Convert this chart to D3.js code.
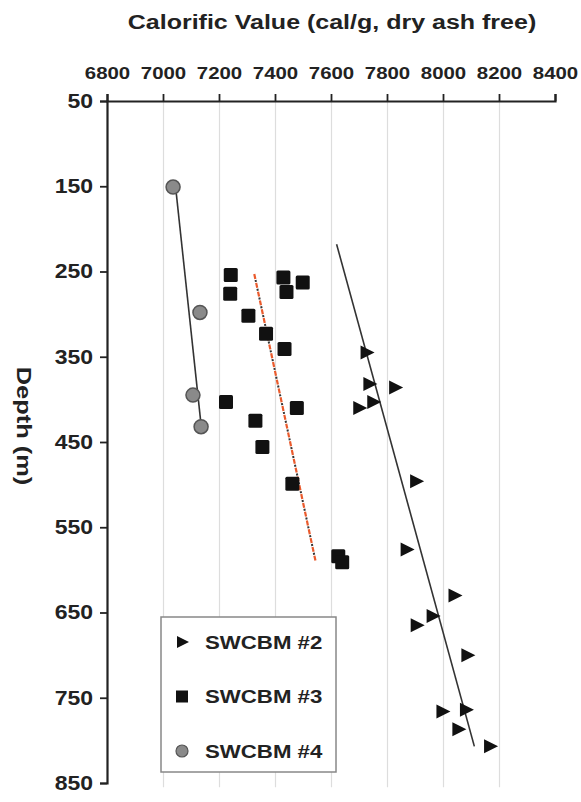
<!DOCTYPE html>
<html>
<head>
<script src="https://d3js.org/d3.v7.min.js"></script>
<style>
  body { margin: 0; background: #fff; }
  text { font-family: "Liberation Sans", Arial, sans-serif; font-weight: bold; fill: #222; }
  .grid line { stroke: #ddd; stroke-width: 1.2; }
  .grid .domain { stroke: none; }
</style>
</head>
<body>
<script>
// SWCBM #2 (triangles): calorific value, depth
const swcbm2Cal   = [7727, 7737, 7829, 7751, 7701, 7904, 7870, 8041, 7963, 7906, 8087, 7998, 8082, 8055, 8168];
const swcbm2Depth = [345, 382, 386, 403, 410, 496, 576, 630, 654, 665, 700, 766, 764, 787, 807];
// SWCBM #3 (squares)
const swcbm3Cal   = [7242, 7240, 7430, 7441, 7499, 7305, 7368, 7434, 7225, 7478, 7330, 7355, 7462, 7626, 7640];
const swcbm3Depth = [254, 276, 257, 274, 263, 302, 323, 341, 403, 410, 425, 456, 499, 584, 591];
// SWCBM #4 (circles)
const swcbm4Cal   = [7036, 7132, 7107, 7136];
const swcbm4Depth = [151, 298, 395, 432];
// trend lines [cal, depth] end points
const trend2 = [[7620, 218], [8112, 807]];
const trend3 = [[7326, 253], [7545, 590]];
const trend4 = [[7046, 154], [7136, 430]];

const xTicks = [6800, 7000, 7200, 7400, 7600, 7800, 8000, 8200, 8400];
const yTicks = [50, 150, 250, 350, 450, 550, 650, 750, 850];
const legendNames = ['SWCBM #2', 'SWCBM #3', 'SWCBM #4'];

const width = 581, height = 802;
const svg = d3.select('body').append('svg').attr('width', width).attr('height', height);

const x = d3.scaleLinear().domain([6800, 8400]).range([107, 555]);
const y = d3.scaleLinear().domain([50, 850]).range([101, 783]);

// the original lettering is wider than Arial, so widen the glyphs a bit
function stretch(sel, k) {
  sel.each(function () {
    const w = this.getComputedTextLength();
    d3.select(this).attr('textLength', w * k).attr('lengthAdjust', 'spacingAndGlyphs');
  });
}

// vertical gridlines
svg.append('g')
  .attr('class', 'grid')
  .attr('transform', `translate(0,${y(50)})`)
  .call(d3.axisBottom(x).tickValues(xTicks.slice(1, -1)).tickFormat('').tickSize(y(855) - y(50)));

// axes
const topAxis = svg.append('g')
  .attr('transform', `translate(0,${y(50)})`)
  .call(d3.axisTop(x).tickValues(xTicks).tickSize(7).tickPadding(21).tickFormat(d3.format('d')));
const leftAxis = svg.append('g')
  .attr('transform', `translate(${x(6800)},0)`)
  .call(d3.axisLeft(y).tickValues(yTicks).tickSize(7).tickPadding(7).tickFormat(d3.format('d')));

[topAxis, leftAxis].forEach(g => {
  g.select('.domain').attr('stroke', '#222').attr('stroke-width', 2.2);
  g.selectAll('.tick line').attr('stroke', '#222').attr('stroke-width', 1.8);
  g.selectAll('.tick text').style('font-family', '"Liberation Sans", Arial, sans-serif')
    .style('font-weight', 'bold').attr('fill', '#222');
});
topAxis.selectAll('.tick text').style('font-size', '17px').attr('dy', '0.36em');
leftAxis.selectAll('.tick text').style('font-size', '20px');
stretch(topAxis.selectAll('.tick text'), 1.2);
stretch(leftAxis.selectAll('.tick text'), 1.15);

// titles
const title = svg.append('text').attr('x', 332).attr('y', 28.5).attr('text-anchor', 'middle')
  .style('font-size', '20px').text('Calorific Value (cal/g, dry ash free)');
stretch(title, 1.25);
const yTitle = svg.append('text').attr('transform', 'translate(24,426) rotate(90)').attr('text-anchor', 'middle')
  .attr('dy', '0.36em').style('font-size', '20px').text('Depth (m)');
stretch(yTitle, 1.27);

// trend lines
const line = d3.line().x(d => x(d[0])).y(d => y(d[1]));
svg.append('path').attr('d', line(trend4)).attr('stroke', '#333').attr('stroke-width', 1.6).attr('fill', 'none');
svg.append('path').attr('d', line(trend2)).attr('stroke', '#333').attr('stroke-width', 1.6).attr('fill', 'none');
// red/black dash-dot for #3
svg.append('path').attr('d', line(trend3)).attr('stroke', '#ea5a2c').attr('stroke-width', 2.2)
  .attr('stroke-dasharray', '5,4').attr('fill', 'none');
svg.append('path').attr('d', line(trend3)).attr('stroke', '#333').attr('stroke-width', 2)
  .attr('stroke-dasharray', '2,7').attr('stroke-dashoffset', -6).attr('fill', 'none');

// markers
const tri = 'M-6,-7L8,0L-6,7Z';
const sq = 14;

svg.append('g').selectAll('path')
  .data(d3.zip(swcbm2Cal, swcbm2Depth))
  .join('path')
  .attr('transform', d => `translate(${x(d[0])},${y(d[1])})`)
  .attr('d', tri).attr('fill', '#111');

svg.append('g').selectAll('rect')
  .data(d3.zip(swcbm3Cal, swcbm3Depth))
  .join('rect')
  .attr('x', d => x(d[0]) - sq / 2).attr('y', d => y(d[1]) - sq / 2)
  .attr('width', sq).attr('height', sq).attr('rx', 1.5)
  .attr('fill', '#111');

svg.append('g').selectAll('circle')
  .data(d3.zip(swcbm4Cal, swcbm4Depth))
  .join('circle')
  .attr('cx', d => x(d[0])).attr('cy', d => y(d[1])).attr('r', 7)
  .attr('fill', '#8a8a8a').attr('stroke', '#555').attr('stroke-width', 1.5);

// legend
const legend = svg.append('g').attr('transform', 'translate(161,617)');
legend.append('rect').attr('width', 175).attr('height', 155)
  .attr('fill', '#fff').attr('stroke', '#888').attr('stroke-width', 1.5);
legendNames.forEach((name, i) => {
  const cy = 25 + i * 54.5;
  const g = legend.append('g').attr('transform', `translate(21,${cy})`);
  if (i === 0) g.append('path').attr('d', 'M-5,-6L7,0L-5,6Z').attr('fill', '#111');
  if (i === 1) g.append('rect').attr('x', -6).attr('y', -6).attr('width', 12).attr('height', 12).attr('fill', '#111');
  if (i === 2) g.append('circle').attr('r', 6).attr('fill', '#8a8a8a').attr('stroke', '#555').attr('stroke-width', 1.2);
  const t = legend.append('text').attr('x', 44).attr('y', cy).attr('dy', '0.36em')
    .style('font-size', '19px').attr('fill', '#333').text(name);
  stretch(t, 1.17);
});
</script>
</body>
</html>
